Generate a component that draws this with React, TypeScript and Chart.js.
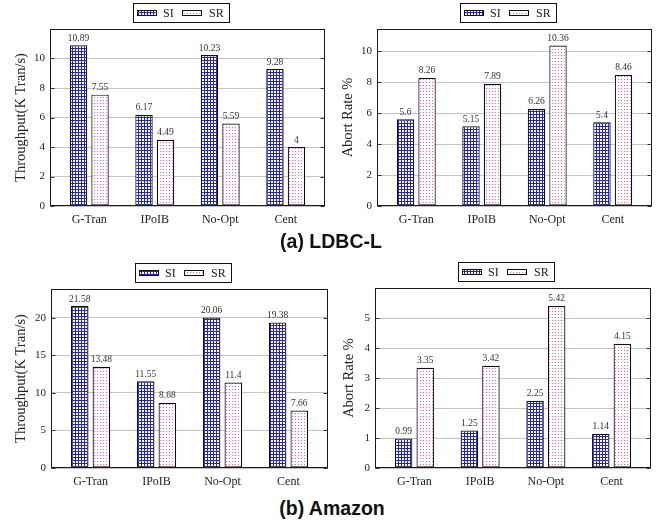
import React, { useEffect, useRef } from 'react';
import { Chart, registerables } from 'chart.js';
Chart.register(...registerables);

// ---------- data ----------
const categories = ['G-Tran', 'IPoIB', 'No-Opt', 'Cent'];
const seriesNames = ['SI', 'SR'];

const ldbcThroughputSI = [10.89, 6.17, 10.23, 9.28];
const ldbcThroughputSR = [7.55, 4.49, 5.59, 4];
const ldbcAbortSI = [5.6, 5.15, 6.26, 5.4];
const ldbcAbortSR = [8.26, 7.89, 10.36, 8.46];
const amazonThroughputSI = [21.58, 11.55, 20.06, 19.38];
const amazonThroughputSR = [13.48, 8.68, 11.4, 7.66];
const amazonAbortSI = [0.99, 1.25, 2.25, 1.14];
const amazonAbortSR = [3.35, 3.42, 5.42, 4.15];

const ldbcThroughputTicks = [0, 2, 4, 6, 8, 10];
const ldbcAbortTicks = [0, 2, 4, 6, 8, 10];
const amazonThroughputTicks = [0, 5, 10, 15, 20];
const amazonAbortTicks = [0, 1, 2, 3, 4, 5];

const ldbcThroughputMax = 12;
const ldbcAbortMax = 11.42;
const amazonThroughputMax = 23.85;
const amazonAbortMax = 6.02;

const throughputTitle = 'Throughput(K Tran/s)';
const abortTitle = 'Abort Rate %';
const captionA = '(a) LDBC-L';
const captionB = '(b) Amazon';

// ---------- layout (page pixels) ----------
type Panel = {
  si: number[]; sr: number[]; ticks: number[]; max: number; title: string;
  canvas: { left: number; top: number; w: number; h: number };
  plot: { l: number; r: number; t: number; b: number };
  titleX: number;
};

const panels: Panel[] = [
  { si: ldbcThroughputSI, sr: ldbcThroughputSR, ticks: ldbcThroughputTicks, max: ldbcThroughputMax, title: throughputTitle,
    canvas: { left: 0, top: 0, w: 329, h: 240 }, plot: { l: 50, r: 325, t: 29, b: 206 }, titleX: 21 },
  { si: ldbcAbortSI, sr: ldbcAbortSR, ticks: ldbcAbortTicks, max: ldbcAbortMax, title: abortTitle,
    canvas: { left: 329, top: 0, w: 329, h: 240 }, plot: { l: 377, r: 652, t: 29, b: 206 }, titleX: 348 },
  { si: amazonThroughputSI, sr: amazonThroughputSR, ticks: amazonThroughputTicks, max: amazonThroughputMax, title: throughputTitle,
    canvas: { left: 0, top: 250, w: 329, h: 245 }, plot: { l: 51, r: 328, t: 289, b: 468 }, titleX: 21 },
  { si: amazonAbortSI, sr: amazonAbortSR, ticks: amazonAbortTicks, max: amazonAbortMax, title: abortTitle,
    canvas: { left: 329, top: 250, w: 329, h: 245 }, plot: { l: 375, r: 651, t: 288, b: 468 }, titleX: 349 },
];

const SERIF = '"Liberation Serif", "Times New Roman", serif';

function makePattern(kind: 'grid' | 'dots'): CanvasPattern {
  const c = document.createElement('canvas');
  c.width = 3; c.height = 3;
  const g = c.getContext('2d')!;
  g.fillStyle = '#ffffff';
  g.fillRect(0, 0, 3, 3);
  if (kind === 'grid') {
    g.fillStyle = '#2424c6';
    g.fillRect(0, 0, 3, 1);
    g.fillRect(0, 0, 1, 3);
  } else {
    g.fillStyle = '#ff5aa5';
    g.fillRect(1, 1, 1, 1);
  }
  return g.createPattern(c, 'repeat')!;
}

function overlayPlugin(p: Panel, pats: CanvasPattern[]) {
  return {
    id: 'overlay',
    afterDraw(chart: any) {
      const ctx: CanvasRenderingContext2D = chart.ctx;
      const a = chart.chartArea;
      ctx.save();
      const L = Math.round(a.left) + 0.5;
      const R = Math.round(a.right) - 0.5;
      const T = Math.round(a.top) + 0.5;
      const B = Math.round(a.bottom) - 0.5;
      // inward tick marks
      const ys = chart.scales.y;
      ctx.strokeStyle = '#333';
      ctx.lineWidth = 1;
      for (const t of p.ticks) {
        const y = Math.round(ys.getPixelForValue(t)) + 0.5;
        ctx.beginPath();
        ctx.moveTo(L, y); ctx.lineTo(L + 4, y);
        ctx.moveTo(R, y); ctx.lineTo(R - 4, y);
        ctx.stroke();
      }
      // frame
      ctx.strokeStyle = '#1a1a1a';
      ctx.strokeRect(L, T, R - L, B - T);
      // value labels
      ctx.fillStyle = '#333';
      ctx.font = `9.5px ${SERIF}`;
      ctx.textAlign = 'center';
      ctx.textBaseline = 'alphabetic';
      chart.data.datasets.forEach((ds: any, di: number) => {
        const meta = chart.getDatasetMeta(di);
        meta.data.forEach((el: any, i: number) => {
          const v = (di === 0 ? p.si : p.sr)[i];
          ctx.fillText(String(v), el.x, el.y - 4.5);
        });
      });
      // y title
      ctx.save();
      ctx.translate(p.titleX - p.canvas.left, (a.top + a.bottom) / 2);
      ctx.rotate(-Math.PI / 2);
      ctx.font = `14.5px ${SERIF}`;
      ctx.fillStyle = '#222';
      ctx.textAlign = 'center';
      ctx.textBaseline = 'middle';
      ctx.fillText(p.title, 0, 0);
      ctx.restore();
      // legend
      const boxW = 96, boxH = 19;
      const bx = Math.round((a.left + a.right) / 2 - 7 - boxW / 2) + 0.5;
      const by = Math.round(a.top - 26) + 0.5;
      ctx.fillStyle = '#fff';
      ctx.fillRect(bx, by, boxW, boxH);
      ctx.strokeStyle = '#111';
      ctx.strokeRect(bx, by, boxW, boxH);
      const swX = [3.5, 48.5];
      const txX = [29.5, 75.5];
      for (let k = 0; k < 2; k++) {
        const sx = Math.round(bx + swX[k]);
        const sy = Math.round(by + 6.5);
        ctx.fillStyle = pats[k];
        ctx.fillRect(sx, sy, 20, 6);
        ctx.strokeStyle = '#111';
        ctx.strokeRect(sx + 0.5, sy + 0.5, 19, 5);
        ctx.fillStyle = '#222';
        ctx.font = `12px ${SERIF}`;
        ctx.textAlign = 'left';
        ctx.textBaseline = 'middle';
        ctx.fillText(seriesNames[k], bx + txX[k], by + boxH / 2 + 0.5);
      }
      ctx.restore();
    },
  };
}

function PanelChart({ p }: { p: Panel }) {
  const ref = useRef<HTMLCanvasElement>(null);
  useEffect(() => {
    const canvas = ref.current!;
    const pats = [makePattern('grid'), makePattern('dots')];
    const yW = p.plot.l - p.canvas.left;
    const padTop = p.plot.t - p.canvas.top;
    const padRight = p.canvas.left + p.canvas.w - p.plot.r;
    const xH = p.canvas.top + p.canvas.h - p.plot.b;
    const mk = (vals: number[], k: number) => ({
      label: seriesNames[k],
      data: vals.map((v, i) => ({ x: i, y: v })),
      backgroundColor: pats[k],
      borderColor: '#0d0d0d',
      borderWidth: 1.2,
      borderSkipped: false,
      categoryPercentage: 0.657,
      barPercentage: 0.81,
    });
    const chart = new Chart(canvas, {
      type: 'bar',
      data: { datasets: [mk(p.si, 0), mk(p.sr, 1)] as any },
      options: {
        animation: false,
        responsive: false,
        devicePixelRatio: 1,
        layout: { padding: { top: padTop, right: padRight, left: 0, bottom: 0 } },
        plugins: { legend: { display: false }, tooltip: { enabled: false } },
        scales: {
          x: {
            type: 'linear',
            min: -0.6,
            max: 3.6,
            offset: false,
            grid: { display: false, drawTicks: false },
            border: { display: false },
            afterBuildTicks: (s: any) => { s.ticks = categories.map((_, i) => ({ value: i })); },
            ticks: {
              callback: (v: any) => categories[v as number] ?? '',
              font: { family: SERIF, size: 12 },
              color: '#222',
              padding: 7,
              autoSkip: false,
              maxRotation: 0,
              includeBounds: false,
            },
            afterFit: (s: any) => { s.height = xH; },
          },
          y: {
            min: 0,
            max: p.max,
            grid: { color: '#c4c4c4', drawTicks: false },
            border: { display: false },
            afterBuildTicks: (s: any) => { s.ticks = p.ticks.map((v) => ({ value: v })); },
            ticks: {
              font: { family: SERIF, size: 11 },
              color: '#222',
              padding: 5,
              callback: (v: any) => String(v),
            },
            afterFit: (s: any) => { s.width = yW; },
          },
        },
      } as any,
      plugins: [overlayPlugin(p, pats)],
    });
    return () => chart.destroy();
  }, [p]);
  return (
    <canvas
      ref={ref}
      width={p.canvas.w}
      height={p.canvas.h}
      style={{ position: 'absolute', left: p.canvas.left, top: p.canvas.top, width: p.canvas.w, height: p.canvas.h }}
    />
  );
}

const captionStyle: React.CSSProperties = {
  position: 'absolute',
  width: 300,
  textAlign: 'center',
  fontFamily: '"Liberation Sans", Arial, sans-serif',
  fontWeight: 'bold',
  fontSize: 19.5,
  lineHeight: '20px',
  color: '#111',
  whiteSpace: 'nowrap',
};

export default function App() {
  return (
    <div style={{ position: 'fixed', left: 0, top: 0, width: 658, height: 525, background: '#fff', overflow: 'hidden' }}>
      {panels.map((p, i) => <PanelChart key={i} p={p} />)}
      <div style={{ ...captionStyle, left: 331 - 150, top: 231 }}>{captionA}</div>
      <div style={{ ...captionStyle, left: 332 - 150, top: 498 }}>{captionB}</div>
    </div>
  );
}
